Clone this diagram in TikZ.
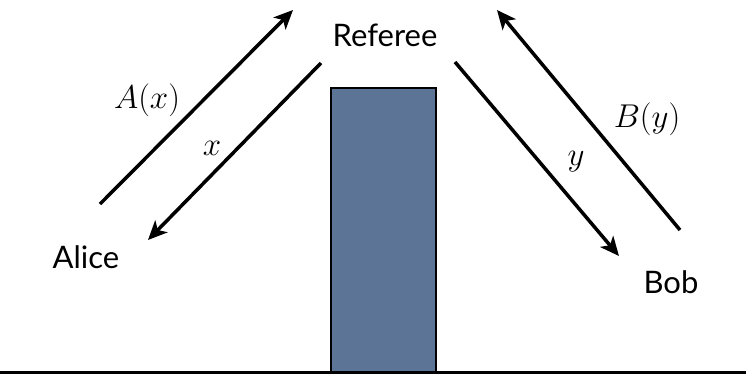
\documentclass[tikz,border=0pt]{standalone}
\usepackage{fontspec}
\setmainfont{Lato}
\usetikzlibrary{positioning,calc}
\usetikzlibrary{arrows.meta}
\definecolor{WallBlue}{RGB}{92,117,150}
\tikzset{
	player/.style={font=\fontsize{31}{34}\selectfont,inner sep=0pt,anchor=base},
	msg/.style={draw=black,line width=3.5pt,-{Stealth[length=19pt,width=17pt,inset=5pt]}},
	lab/.style={font=\huge,scale=1.59,transform shape,inner sep=0pt,anchor=base},
	wall/.style={draw=black,line width=2pt,fill=WallBlue},
}
\begin{document}
\begin{tikzpicture}[x=1pt,y=-1pt]
					\useasboundingbox (0,0) rectangle (746,375);
					\node[player] (ref) at (385,46) {Referee};
					\node[player] (alice) at (86,268) {Alice};
					\node[player] (bob) at (671,293) {Bob};
					\coordinate (a1) at (100,204);
					\coordinate (a2) at (293,10);
					\coordinate (a3) at (321,63);
					\coordinate (a4) at (148,240);
					\coordinate (b1) at (455,62);
					\coordinate (b2) at (619,256);
					\coordinate (b3) at (680,230);
					\coordinate (b4) at (497,10);
					\foreach \x/\y in {a1/a2,a3/a4,b1/b2,b3/b4}
					\draw[msg] (\x)--(\y);
					\draw[wall] (331,88) rectangle (436,372);
					\draw[line width=3pt] (0,372)--(746,372);
					\node[lab] (ax) at (147,108) {$A(x)$};
					\node[lab] (x) at (212,155) {$x$};
					\node[lab] (y) at (576,165) {$y$};
					\node[lab] (by) at (647,127) {$B(y)$};
				\end{tikzpicture}
\end{document}
